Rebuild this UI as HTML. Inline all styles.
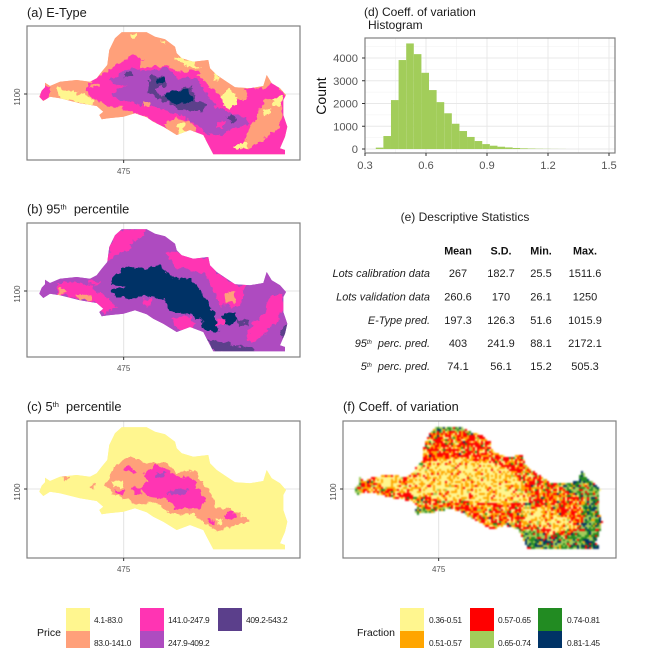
<!DOCTYPE html>
<html lang="en">
<head>
<meta charset="utf-8">
<title>Price maps and coefficient of variation</title>
<style>
html,body{margin:0;padding:0;background:#fff}
#stage{position:relative;width:667px;height:648px;overflow:hidden;filter:blur(0.35px)}
#figure{position:absolute;left:0;top:0}
#cv-raster{position:absolute;left:0;top:0;filter:blur(0.7px)}
text{font-family:"Liberation Sans",sans-serif}
.title{font-size:12.8px;fill:#1a1a1a}
.tick{font-size:8px;fill:#555}
.hticks{font-size:11.2px;fill:#555}
.th{font-size:10.8px;font-weight:bold;fill:#111;text-anchor:middle}
.td{font-size:11px;fill:#222;text-anchor:middle}
.rl{font-size:10.9px;font-style:italic;fill:#222;text-anchor:end}
.lg{font-size:8.4px;fill:#222;letter-spacing:-.3px}
.lt{font-size:10.5px;fill:#111}
</style>
</head>
<body>
<div id="stage">
<svg id="figure" width="667" height="648" viewBox="0 0 667 648" xmlns="http://www.w3.org/2000/svg">
  <defs>
    <filter id="rough" x="-5%" y="-5%" width="110%" height="110%">
      <feTurbulence type="fractalNoise" baseFrequency="0.16" numOctaves="3" seed="4" result="n"/>
      <feDisplacementMap in="SourceGraphic" in2="n" scale="8" xChannelSelector="R" yChannelSelector="G"/>
      <feGaussianBlur stdDeviation="0.35"/>
    </filter>
  </defs>

  <g id="panels"></g>
  <g id="histogram"></g>

  <text class="title" x="27" y="17">(a) E-Type</text>
  <text class="title" x="27" y="213.5">(b)  95<tspan font-size="7.5" dy="-4">th</tspan><tspan dy="4" xml:space="preserve">  percentile</tspan></text>
  <text class="title" x="27" y="411">(c)  5<tspan font-size="7.5" dy="-4">th</tspan><tspan dy="4" xml:space="preserve">  percentile</tspan></text>
  <text class="title" x="343" y="411">(f) Coeff. of variation</text>
  <text x="364" y="16" font-size="12" fill="#1a1a1a">(d) Coeff. of variation</text>
  <text x="368" y="29" font-size="12" fill="#1a1a1a">Histogram</text>

  <g>
    <text x="465" y="221" font-size="12" fill="#222" text-anchor="middle">(e) Descriptive Statistics</text>
    <text class="th" x="458" y="254.5">Mean</text>
    <text class="th" x="501" y="254.5">S.D.</text>
    <text class="th" x="541" y="254.5">Min.</text>
    <text class="th" x="585" y="254.5">Max.</text>

    <text class="rl" x="430" y="277">Lots calibration data</text>
    <text class="td" x="458" y="277">267</text><text class="td" x="501" y="277">182.7</text><text class="td" x="541" y="277">25.5</text><text class="td" x="585" y="277">1511.6</text>

    <text class="rl" x="430" y="300.5">Lots validation data</text>
    <text class="td" x="458" y="300.5">260.6</text><text class="td" x="501" y="300.5">170</text><text class="td" x="541" y="300.5">26.1</text><text class="td" x="585" y="300.5">1250</text>

    <text class="rl" x="430" y="324">E-Type pred.</text>
    <text class="td" x="458" y="324">197.3</text><text class="td" x="501" y="324">126.3</text><text class="td" x="541" y="324">51.6</text><text class="td" x="585" y="324">1015.9</text>

    <text class="rl" x="430" y="347">95<tspan font-size="6" dy="-3">th</tspan><tspan dy="3" xml:space="preserve">  perc. pred.</tspan></text>
    <text class="td" x="458" y="347">403</text><text class="td" x="501" y="347">241.9</text><text class="td" x="541" y="347">88.1</text><text class="td" x="585" y="347">2172.1</text>

    <text class="rl" x="430" y="370">5<tspan font-size="6" dy="-3">th</tspan><tspan dy="3" xml:space="preserve">  perc. pred.</tspan></text>
    <text class="td" x="458" y="370">74.1</text><text class="td" x="501" y="370">56.1</text><text class="td" x="541" y="370">15.2</text><text class="td" x="585" y="370">505.3</text>
  </g>

  <g>
    <text class="lt" x="37" y="636">Price</text>
    <rect x="66" y="608" width="24" height="23" fill="#FFF68F"/>
    <rect x="66" y="631" width="24" height="17" fill="#FFA07A"/>
    <rect x="140" y="608" width="24" height="23" fill="#FF34B3"/>
    <rect x="140" y="631" width="24" height="17" fill="#AE4CC0"/>
    <rect x="218" y="608" width="24" height="23" fill="#5B3F8B"/>
    <text class="lg" x="94" y="623">4.1-83.0</text>
    <text class="lg" x="94" y="646">83.0-141.0</text>
    <text class="lg" x="168" y="623">141.0-247.9</text>
    <text class="lg" x="168" y="646">247.9-409.2</text>
    <text class="lg" x="246" y="623">409.2-543.2</text>
  </g>
  <g>
    <text class="lt" x="357" y="636">Fraction</text>
    <rect x="400" y="608" width="24" height="23" fill="#FFF68F"/>
    <rect x="400" y="631" width="24" height="17" fill="#FFA500"/>
    <rect x="470" y="608" width="24" height="23" fill="#FF0000"/>
    <rect x="470" y="631" width="24" height="17" fill="#A2CD5A"/>
    <rect x="538" y="608" width="24" height="23" fill="#228B22"/>
    <rect x="538" y="631" width="24" height="17" fill="#003366"/>
    <text class="lg" x="429" y="623">0.36-0.51</text>
    <text class="lg" x="429" y="646">0.51-0.57</text>
    <text class="lg" x="498" y="623">0.57-0.65</text>
    <text class="lg" x="498" y="646">0.65-0.74</text>
    <text class="lg" x="567" y="623">0.74-0.81</text>
    <text class="lg" x="567" y="646">0.81-1.45</text>
  </g>
</svg>
<canvas id="cv-raster" width="667" height="648"></canvas>
</div>

<script>
// ---------- Histogram data ----------
var histBinStart = 0.353;
var histBinWidth = 0.0374;
var histCounts = [60,570,2150,3910,4640,4170,3350,2590,2060,1570,1110,790,530,350,215,145,100,70,45,30,20,12,8,5,3];
var histXTicks = [0.3,0.6,0.9,1.2,1.5];
var histXMinor = [0.45,0.75,1.05,1.35];
var histYTicks = [0,1000,2000,3000,4000];
var histYMinor = [500,1500,2500,3500,4500];

// ---------- Map geometry (map grid units) ----------
var basinOutline = [[118,290],[125,272],[135,262],[135,248],[150,258],[180,245],[230,240],[270,245],[290,235],[305,215],[322,195],[328,150],[345,115],[365,97],[440,97],[465,110],[495,118],[525,140],[530,160],[545,175],[580,185],[625,180],[630,205],[650,225],[680,245],[705,262],[750,265],[790,258],[800,225],[815,250],[840,265],[858,285],[850,300],[850,345],[862,380],[855,410],[840,445],[855,450],[855,463],[640,463],[620,425],[610,405],[570,390],[530,405],[490,380],[460,365],[440,352],[405,340],[370,350],[325,355],[305,358],[298,345],[310,335],[290,318],[240,310],[180,295],[150,290],[130,303]];

var eTypeBase = "orange";
var eTypeRegions = [
 ["magenta",[[262,252],[300,225],[340,205],[390,165],[430,175],[420,205],[500,195],[530,215],[590,215],[620,250],[650,280],[700,300],[745,300],[730,265],[800,262],[815,240],[860,285],[870,470],[630,470],[610,410],[570,392],[520,378],[490,380],[430,350],[400,335],[340,320],[290,305],[262,275]]],
 ["magenta",[[115,280],[135,255],[150,262],[150,290],[125,305]]],
 ["orange",[[720,445],[740,400],[780,340],[790,300],[845,290],[848,350],[830,390],[790,420],[750,445]]],
 ["orange",[[490,370],[520,355],[570,360],[590,390],[555,405],[520,395]]],
 ["orange",[[268,250],[300,250],[298,262],[270,262]]],
 ["orange",[[300,320],[370,320],[370,350],[305,355]]],
 ["purple",[[330,240],[390,205],[430,215],[500,200],[530,235],[590,235],[615,275],[650,320],[690,340],[730,350],[745,375],[700,385],[660,405],[610,395],[580,365],[540,345],[490,330],[450,320],[400,310],[340,295],[335,280],[380,255],[340,250]]],
 ["orange",[[432,305],[450,305],[450,320],[432,320]]],
 ["magenta",[[650,365],[672,365],[672,385],[650,385]]],
 ["dark",[[450,230],[490,225],[500,255],[470,265],[480,290],[530,270],[575,260],[590,300],[620,315],[610,335],[540,330],[510,310],[470,295],[445,280]]],
 ["dark",[[680,350],[700,345],[710,358],[692,370]]],
 ["dark",[[372,222],[395,212],[402,228],[375,232]]],
 ["navy",[[470,232],[495,232],[495,250],[472,250]]],
 ["navy",[[490,280],[530,270],[570,270],[580,300],[550,315],[510,305]]],
 ["yellow",[[172,262],[210,270],[280,295],[280,315],[240,310],[180,295]]],
 ["yellow",[[665,285],[690,268],[712,290],[705,320],[675,322]]],
 ["yellow",[[520,170],[590,185],[600,205],[560,200]]],
 ["yellow",[[640,225],[660,230],[655,243],[640,240]]],
 ["yellow",[[820,295],[850,290],[842,318],[820,318]]],
 ["yellow",[[790,330],[810,325],[805,345],[790,350]]],
 ["yellow",[[530,365],[555,370],[555,405],[535,400]]],
 ["yellow",[[390,102],[410,102],[405,115],[395,115]]],
 ["yellow",[[485,120],[505,125],[495,135]]],
 ["yellow",[[700,440],[740,425],[745,440],[710,450]]]
];

var p95Base = "purple";
var p95Regions = [
 ["magenta",[[322,195],[330,150],[345,115],[365,97],[440,97],[420,125],[395,135],[390,160],[350,170]]],
 ["magenta",[[500,170],[545,170],[625,180],[650,225],[700,262],[735,265],[720,330],[660,325],[640,280],[620,235],[580,220],[530,210],[510,190]]],
 ["magenta",[[740,430],[745,395],[790,350],[810,300],[850,290],[850,340],[830,375],[790,415],[760,435]]],
 ["magenta",[[170,260],[240,255],[270,265],[330,310],[355,330],[310,350],[290,318],[240,305],[170,290]]],
 ["magenta",[[510,365],[560,355],[590,380],[560,400],[530,395]]],
 ["magenta",[[270,248],[300,255],[285,268],[265,262]]],
 ["magenta",[[430,305],[450,305],[455,325],[435,325]]],
 ["navy",[[340,240],[380,205],[420,215],[470,205],[505,225],[520,245],[570,245],[600,280],[635,330],[650,380],[655,405],[620,400],[600,365],[560,350],[510,345],[495,310],[440,295],[385,305],[340,295],[335,280],[380,270],[330,258]]],
 ["navy",[[665,360],[700,345],[715,370],[690,385],[665,380]]],
 ["magenta",[[650,365],[672,365],[672,385],[650,385]]],
 ["dark",[[620,425],[700,440],[640,463]]],
 ["dark",[[640,440],[760,452],[760,470],[640,470]]],
 ["dark",[[840,400],[865,380],[855,440]]],
 ["dark",[[715,370],[750,372],[745,385],[715,385]]],
 ["orange",[[175,275],[195,275],[195,290],[175,290]]],
 ["orange",[[225,290],[270,295],[275,310],[240,310]]],
 ["orange",[[675,290],[700,285],[705,315],[680,320]]]
];

var p5Base = "yellow";
var p5Regions = [
 ["orange",[[315,270],[345,215],[390,185],[430,205],[500,205],[530,230],[585,225],[610,270],[640,310],[650,340],[700,345],[750,378],[710,390],[650,410],[610,385],[580,355],[510,355],[470,325],[410,325],[340,300]]],
 ["yellow",[[335,260],[365,255],[370,275],[340,275]]],
 ["yellow",[[652,372],[668,372],[668,388],[652,388]]],
 ["magenta",[[370,220],[390,210],[405,232],[370,232]]],
 ["magenta",[[430,240],[470,210],[510,230],[540,245],[580,250],[600,290],[620,320],[600,340],[530,342],[495,310],[450,305],[420,280],[445,255]]],
 ["magenta",[[350,285],[370,285],[370,300],[350,300]]],
 ["magenta",[[395,280],[425,280],[425,300],[400,300]]],
 ["magenta",[[675,352],[700,345],[712,365],[690,378],[675,370]]],
 ["magenta",[[622,372],[645,375],[640,390],[625,385]]],
 ["orange",[[187,243],[205,243],[205,253],[187,253]]],
 ["orange",[[265,268],[285,270],[285,278],[265,276]]],
 ["purple",[[500,290],[550,280],[565,285],[550,305],[510,300]]],
 ["purple",[[470,232],[495,235],[485,248],[470,245]]]
];

// Colour class mixes of the raster texture in panel (f)
var cvClasses = ["#FFF68F","#FFA500","#FF0000","#A2CD5A","#228B22","#003366"];
var cvBaseMix = [0.16,0.3,0.44,0.05,0.04,0.01];
var cvZones = [
 {mix:[0.58,0.32,0.08,0.02,0,0], poly:[[270,265],[310,210],[400,190],[520,200],[580,220],[620,262],[640,315],[600,325],[500,325],[400,315],[310,305],[235,280],[170,262],[205,242],[265,250]]},
 {mix:[0.58,0.3,0.1,0.02,0,0], poly:[[630,345],[700,330],[730,355],[790,398],[740,408],[680,402],[620,378]]},
 {mix:[0.02,0.06,0.1,0.38,0.3,0.14], poly:[[700,250],[810,215],[875,290],[875,420],[860,470],[620,470],[590,395],[640,405],[700,420],[760,425],[800,390],[810,310],[750,285]]},
 {mix:[0.03,0.10,0.17,0.40,0.25,0.05], poly:[[340,90],[455,90],[475,125],[420,108],[350,112]]},
 {mix:[0.03,0.12,0.19,0.35,0.28,0.03], poly:[[280,340],[310,335],[390,335],[440,345],[500,385],[480,388],[430,362],[370,358],[300,362]]},
 {mix:[0.03,0.08,0.24,0.35,0.28,0.02], poly:[[108,268],[135,245],[142,300],[108,315]]},
 {mix:[0.01,0.02,0.05,0.14,0.28,0.50], poly:[[630,435],[695,432],[680,470],[625,470]]},
 {mix:[0.01,0.02,0.04,0.12,0.26,0.55], poly:[[805,432],[845,440],[860,470],[795,470]]},
 {mix:[0,0.01,0.03,0.12,0.29,0.55], poly:[[770,240],[803,220],[810,262],[765,262]]}
];

var paletteColors = {yellow:"#FFF68F",orange:"#FFA07A",magenta:"#FF34B3",purple:"#AE4CC0",dark:"#5B3F8B",navy:"#003366"};
var mapPanelList = [
 {key:"a",left:27,right:300,top:26,bottom:160,dx:0,dy:0,base:eTypeBase,regions:eTypeRegions},
 {key:"b",left:27,right:300,top:223,bottom:357,dx:0,dy:197,base:p95Base,regions:p95Regions},
 {key:"c",left:27,right:300,top:421,bottom:558,dx:0,dy:395,base:p5Base,regions:p5Regions},
 {key:"f",left:343,right:616,top:421,bottom:558,dx:315,dy:395,base:null,regions:[]}
];

var SVGNS = "http://www.w3.org/2000/svg";
function mk(tag, attrs, parent){
  var el = document.createElementNS(SVGNS, tag);
  for (var k in attrs) el.setAttribute(k, attrs[k]);
  if (parent) parent.appendChild(el);
  return el;
}
function mapX(p,u){ return p.dx + u/3; }
function mapY(p,v){ return p.dy + v/3; }
function polyPoints(p,pts){
  return pts.map(function(q){ return mapX(p,q[0]).toFixed(1)+","+mapY(p,q[1]).toFixed(1); }).join(" ");
}

var panelsG = document.getElementById("panels");
var defsEl = document.querySelector("#figure defs");

mapPanelList.forEach(function(p){
  var g = mk("g", {}, panelsG);
  
  

  var gx = mapX(p, 371), gy = mapY(p, 282);
  var v = mk("line", {x1:gx,x2:gx,y1:p.top,y2:p.bottom,stroke:"#e4e4e4","stroke-width":1}, g);
  
  
  var h = mk("line", {x1:p.left,x2:p.right,y1:gy,y2:gy,stroke:"#e4e4e4","stroke-width":1}, g);
  
  

  if (p.base) {
    var clip = mk("clipPath", {id:"clip-"+p.key}, defsEl);
    mk("polygon", {points:polyPoints(p,basinOutline)}, clip);
    var outer = mk("g", {}, g);
    
    
    var under = mk("polygon", {points:polyPoints(p,basinOutline),fill:paletteColors[p.base]}, outer);
    
    
    var clipped = mk("g", {"clip-path":"url(#clip-"+p.key+")"}, outer);
    var rough = mk("g", {filter:"url(#rough)"}, clipped);
    mk("rect", {x:p.left,y:p.top,width:p.right-p.left,height:p.bottom-p.top,fill:paletteColors[p.base]}, rough);
    p.regions.forEach(function(r){
      var poly = mk("polygon", {points:polyPoints(p,r[1]),fill:paletteColors[r[0]]}, rough);
      
      
    });
  }

  var frame = mk("rect", {x:p.left,y:p.top,width:p.right-p.left,height:p.bottom-p.top,fill:"none",stroke:"#808080","stroke-width":1.2}, g);
  
  

  var tx = mk("line", {x1:gx,x2:gx,y1:p.bottom,y2:p.bottom+3,stroke:"#333","stroke-width":1}, g);
  
  
  var ty = mk("line", {x1:p.left-3,x2:p.left,y1:gy,y2:gy,stroke:"#333","stroke-width":1}, g);
  
  

  var xl = mk("text", {x:gx,y:p.bottom+14,"text-anchor":"middle","class":"tick"}, g);
  xl.textContent = "475";
  
  
  var yx = p.left - 7;
  var yl = mk("text", {x:yx,y:gy+3,"text-anchor":"middle","class":"tick",transform:"rotate(-90 "+yx+" "+(gy+3)+")"}, g);
  yl.textContent = "1100";
  
  
});

// ---------- Panel (f) raster ----------
function inPoly(x,y,pts){
  var c = false;
  for (var i=0,j=pts.length-1;i<pts.length;j=i++){
    var a=pts[i],b=pts[j];
    if ((a[1]>y)!==(b[1]>y) && x < (b[0]-a[0])*(y-a[1])/(b[1]-a[1])+a[0]) c=!c;
  }
  return c;
}
function grain(i,j){ var s=Math.sin(i*127.1+j*311.7)*43758.5453; return s-Math.floor(s); }
(function(){
  var p = mapPanelList[3];
  var ctx = document.getElementById("cv-raster").getContext("2d");
  var cell = 2;
  for (var py=p.top; py<p.bottom; py+=cell){
    for (var px=p.left; px<p.right; px+=cell){
      var u=(px+1-p.dx)*3, w=(py+1-p.dy)*3;
      if (!inPoly(u,w,basinOutline)) continue;
      var mix = cvBaseMix;
      for (var z=0;z<cvZones.length;z++) if (inPoly(u,w,cvZones[z].poly)) mix = cvZones[z].mix;
      var r = grain(px,py), acc = 0, c = 0;
      for (var k=0;k<mix.length;k++){ acc+=mix[k]; if (r<=acc){ c=k; break; } }
      ctx.fillStyle = cvClasses[c];
      ctx.fillRect(px,py,cell,cell);
    }
  }
})();

// ---------- Panel (d) histogram ----------
(function(){
  var g = document.getElementById("histogram");
  var L=365,R=615,T=38,B=153;
  function hx(v){ return 365 + (v-0.3)*(61/0.3); }
  function hy(v){ return 149 - v*(91/4000); }

  mk("rect",{x:L,y:T,width:R-L,height:B-T,fill:"#fff"},g);
  histXMinor.forEach(function(v){ mk("line",{x1:hx(v),x2:hx(v),y1:T,y2:B,stroke:"#f0f0f0","stroke-width":.6},g); });
  histYMinor.forEach(function(v){ mk("line",{x1:L,x2:R,y1:hy(v),y2:hy(v),stroke:"#f0f0f0","stroke-width":.6},g); });
  histXTicks.forEach(function(v){ mk("line",{x1:hx(v),x2:hx(v),y1:T,y2:B,stroke:"#e8e8e8","stroke-width":1},g); });
  histYTicks.forEach(function(v){ mk("line",{x1:L,x2:R,y1:hy(v),y2:hy(v),stroke:"#e8e8e8","stroke-width":1},g); });

  histCounts.forEach(function(c,i){
    var x0 = hx(histBinStart + i*histBinWidth), x1 = hx(histBinStart + (i+1)*histBinWidth);
    var bar = mk("rect",{x:x0,y:hy(c),width:x1-x0,height:hy(0)-hy(c),fill:"#A2CD5A"},g);
    
    
  });

  var frame = mk("rect",{x:L,y:T,width:R-L,height:B-T,fill:"none",stroke:"#808080","stroke-width":1.2},g);
  
  

  histXTicks.forEach(function(v){
    mk("line",{x1:hx(v),x2:hx(v),y1:B,y2:B+3,stroke:"#333","stroke-width":1},g);
    var t = mk("text",{x:hx(v),y:B+16,"text-anchor":"middle","class":"hticks"},g);
    t.textContent = v.toFixed(1);
    
    
  });
  histYTicks.forEach(function(v){
    mk("line",{x1:L-3,x2:L,y1:hy(v),y2:hy(v),stroke:"#333","stroke-width":1},g);
    var t = mk("text",{x:L-7,y:hy(v)+4,"text-anchor":"end","class":"hticks"},g);
    t.textContent = String(v);
    
    
  });
  var yt = mk("text",{x:326,y:96,"text-anchor":"middle","font-size":14,fill:"#111",transform:"rotate(-90 326 96)"},g);
  yt.textContent = "Count";
  
  
})();
</script>
</body>
</html>
